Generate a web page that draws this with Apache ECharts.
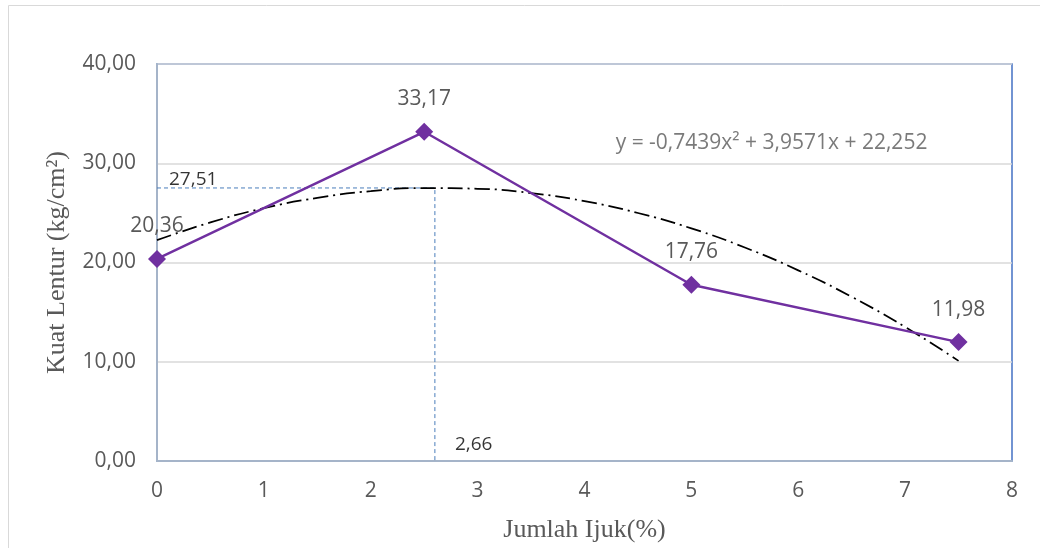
<!DOCTYPE html>
<html><head><meta charset="utf-8">
<script src="https://cdn.jsdelivr.net/npm/echarts@6/dist/echarts.min.js"></script>
<style>html,body{margin:0;padding:0;background:#fff}#c{width:1040px;height:548px}</style>
</head><body><div id="c"></div>
<script>
const xValues = [0, 2.5, 5, 7.5];
const kuatLentur = [20.36, 33.17, 17.76, 11.98];
const trendX = [0, 0.5, 1, 1.5, 2, 2.5, 3, 3.5, 4, 4.5, 5, 5.5, 6, 6.5, 7, 7.5];
const trendY = [22.25, 24.04, 25.47, 26.51, 27.19, 27.50, 27.43, 26.99, 26.18, 24.99, 23.44, 21.51, 19.21, 16.54, 13.50, 10.09];
const peakX = 2.6;
const peakY = 27.51;
const peakXLabel = '2,66';
const peakYLabel = '27,51';
const equation = 'y = -0,7439x² + 3,9571x + 22,252';
const equationPos = [5.75, 32.08];
const xTitle = 'Jumlah Ijuk(%)';
const yTitle = 'Kuat Lentur (kg/cm²)';

const fmt = v => v.toFixed(2).replace('.', ',');
const FONT = 'Open Sans';
const GRAY = '#595959';

const chart = echarts.init(document.getElementById('c'));
chart.setOption({
  animation: false,
  textStyle: { fontFamily: FONT },
  graphic: [{
    type: 'rect', shape: { x: 8.5, y: 5.5, width: 1040, height: 600 },
    style: { fill: 'none', stroke: '#d9d9d9', lineWidth: 1 }, z: -10
  }],
  grid: { left: 157, top: 64, right: 28, bottom: 85, show: true, borderColor: '#4472c4', borderWidth: 1.5 },
  xAxis: {
    type: 'value', min: 0, max: 8, interval: 1,
    name: xTitle, nameLocation: 'middle', nameGap: 56,
    nameTextStyle: { fontFamily: 'Liberation Serif', fontSize: 26, color: GRAY },
    axisLine: { show: true, onZero: false, lineStyle: { color: '#a5b4c9', width: 2 } },
    axisTick: { show: false },
    splitLine: { show: false },
    axisLabel: { color: GRAY, fontSize: 21, margin: 20, fontFamily: FONT }
  },
  yAxis: {
    type: 'value', min: 0, max: 40, interval: 10,
    name: yTitle, nameLocation: 'middle', nameGap: 87, nameRotate: 90,
    nameTextStyle: { fontFamily: 'Liberation Serif', fontSize: 26, color: GRAY },
    axisLine: { show: true, lineStyle: { color: '#a5b4c9', width: 2 } },
    axisTick: { show: false },
    splitLine: { show: true, lineStyle: { color: '#d9d9d9', width: 1.5 } },
    axisLabel: { color: GRAY, fontSize: 21, margin: 21, formatter: fmt, fontFamily: FONT }
  },
  series: [
    {
      type: 'line', name: 'ref',
      data: [[0, peakY], [peakX, peakY], [peakX, 0]],
      symbol: 'none', lineStyle: { color: '#4a7ebb', width: 1, type: [4, 3] }, z: 1
    },
    {
      type: 'line', name: 'trend', smooth: true,
      data: trendX.map((x, i) => [x, trendY[i]]),
      symbol: 'none', lineStyle: { color: '#000', width: 1.75, type: [15, 5, 2, 5] }, z: 2
    },
    {
      type: 'line', name: 'data',
      data: xValues.map((x, i) => [x, kuatLentur[i]]),
      symbol: 'diamond', symbolSize: 18,
      itemStyle: { color: '#7030a0' },
      lineStyle: { color: '#7030a0', width: 2.5 },
      label: { show: true, position: 'top', distance: 13, color: GRAY, fontSize: 21, fontFamily: FONT,
        formatter: p => fmt(p.value[1]) },
      z: 3
    },
    {
      type: 'scatter', name: 'annot', symbolSize: 0, silent: true,
      data: [
        { value: [0, peakY], label: { formatter: peakYLabel, position: 'right', offset: [7, -8], color: '#000', fontSize: 19 } },
        { value: [peakX, 0], label: { formatter: peakXLabel, position: 'right', offset: [15, -16], color: '#000', fontSize: 19 } },
        { value: equationPos, label: { formatter: equation, position: 'inside', color: GRAY, fontSize: 21 } }
      ],
      label: { show: true, fontFamily: FONT },
      z: 4
    }
  ]
});
</script></body></html>
